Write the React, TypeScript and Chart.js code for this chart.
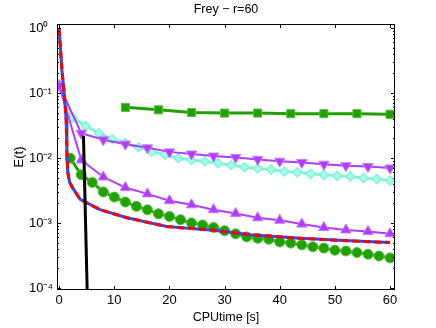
import React, { useEffect, useRef } from "react";
import { Chart, registerables } from "chart.js";

Chart.register(...registerables);

const TITLE = "Frey − r=60";
const X_LABEL = "CPUtime [s]";
const Y_LABEL = "E(t)";
const X_TICKS = [0, 10, 20, 30, 40, 50, 60];
const Y_TICKS = [1e-4, 1e-3, 1e-2, 1e-1, 1];
const Y_TICK_LABELS = ["10⁻⁴", "10⁻³", "10⁻²", "10⁻¹", "10⁰"];

const blackT = [4.4, 5.15];
const blackE = [0.022, 0.00005];

const redT = [0, 0.5, 0.9, 1.27, 1.4, 1.55, 1.9, 2.5, 3.8, 7.4, 12.3, 19.5, 28, 34.6, 43.7, 52.7, 60];
const redE = [0.95, 0.22, 0.1, 0.038, 0.012, 0.006, 0.0042, 0.0034, 0.0023, 0.0016, 0.0012, 0.00088, 0.00077, 0.00066, 0.00058, 0.00053, 0.0005];
const blueT = [0, 0.5, 0.9, 1.27, 1.4, 1.55, 1.9, 2.5, 3.8, 7.4, 12.3, 19.5, 28, 34.6, 43.7, 52.7, 60];
const blueE = [0.95, 0.22, 0.1, 0.038, 0.012, 0.006, 0.0042, 0.0034, 0.0023, 0.0016, 0.0012, 0.00088, 0.00077, 0.00066, 0.00058, 0.00053, 0.0005];

const circT = [2, 4, 6, 8, 10, 12, 14, 16, 18, 20, 22, 24, 26, 28, 30, 32, 34, 36, 38, 40, 42, 44, 46, 48, 50, 52, 54, 56, 58, 60];
const circE = [0.0099, 0.0055, 0.0042, 0.003, 0.0025, 0.0021, 0.0018, 0.00159, 0.00138, 0.00126, 0.00112, 0.001, 0.00093, 0.00085, 0.00076, 0.00068, 0.00061, 0.00058, 0.00056, 0.00051, 0.00049, 0.00046, 0.00043, 0.00041, 0.00038, 0.00037, 0.00035, 0.00033, 0.00031, 0.00029];

const sqT = [12, 18, 24, 30, 36, 42, 48, 54, 60];
const sqE = [0.06, 0.055, 0.05, 0.049, 0.049, 0.048, 0.048, 0.048, 0.047];

const diaT = [0, 2.4, 4.8, 7.2, 9.6, 12, 14.4, 16.8, 19.2, 21.6, 24, 26.4, 28.8, 31.2, 33.6, 36, 38.4, 40.8, 43.2, 45.6, 48, 50.4, 52.8, 55.2, 57.6, 60];
const diaE = [0.13, 0.042, 0.031, 0.024, 0.0194, 0.0169, 0.0146, 0.0125, 0.0112, 0.0099, 0.0093, 0.0088, 0.0083, 0.0078, 0.0072, 0.0069, 0.0066, 0.0062, 0.006, 0.0057, 0.0055, 0.0053, 0.0052, 0.0049, 0.0047, 0.0045];

const downT = [0, 4, 8, 12, 16, 20, 24, 28, 32, 36, 40, 44, 48, 52, 56, 60];
const downE = [0.13, 0.024, 0.019, 0.0163, 0.0143, 0.0124, 0.0115, 0.0107, 0.0102, 0.0095, 0.0089, 0.0085, 0.008, 0.0076, 0.0074, 0.007];

const upT = [0, 4, 8, 12, 16, 20, 24, 28, 32, 36, 40, 44, 48, 52, 56, 60];
const upE = [0.13, 0.0093, 0.0051, 0.0035, 0.0028, 0.0022, 0.0019, 0.0016, 0.0014, 0.0012, 0.0011, 0.00096, 0.00085, 0.00078, 0.00074, 0.00068];

const FONT = '"Liberation Sans", Arial, Helvetica, sans-serif';

const pts = (t: number[], e: number[]) => t.map((v, i) => ({ x: v, y: e[i] }));

const axesPlugin = {
  id: "matlabAxes",
  afterDraw(chart: any) {
    const { ctx, chartArea: a, scales } = chart;
    const xs = scales.x;
    const ys = scales.y;
    ctx.save();
    ctx.strokeStyle = "#000";
    ctx.lineWidth = 1;
    ctx.strokeRect(a.left + 0.5, a.top + 0.5, a.right - a.left - 1, a.bottom - a.top - 1);
    ctx.beginPath();
    for (const v of X_TICKS) {
      const px = Math.round(xs.getPixelForValue(v)) + 0.5;
      ctx.moveTo(px, a.bottom);
      ctx.lineTo(px, a.bottom - 4);
      ctx.moveTo(px, a.top);
      ctx.lineTo(px, a.top + 4);
    }
    for (let d = -5; d <= 0; d++) {
      for (let m = 1; m <= 9; m++) {
        const v = m * Math.pow(10, d);
        if (v < ys.min || v > ys.max) continue;
        const py = Math.round(ys.getPixelForValue(v)) + 0.5;
        const len = m === 1 ? 4 : 2;
        ctx.moveTo(a.left, py);
        ctx.lineTo(a.left + len, py);
        ctx.moveTo(a.right, py);
        ctx.lineTo(a.right - len, py);
      }
    }
    ctx.stroke();
    ctx.fillStyle = "#000";
    ctx.font = `12.5px ${FONT}`;
    ctx.textAlign = "center";
    ctx.textBaseline = "middle";
    ctx.fillText(TITLE, (a.left + a.right) / 2, 10);
    ctx.font = `13px ${FONT}`;
    ctx.translate(19, (a.top + a.bottom) / 2);
    ctx.rotate(-Math.PI / 2);
    ctx.fillText(Y_LABEL, 0, 0);
    ctx.restore();
  },
};

const GREEN = "#22a000";
const GREEN_EDGE = "#50c040";
const PURPLE = "#b03cff";
const PURPLE_EDGE = "#c878ff";
const CYAN = "#7ff5d8";
const CYAN_FILL = "#a8ffe8";

export default function App() {
  const ref = useRef<HTMLCanvasElement>(null);
  useEffect(() => {
    if (!ref.current) return;
    const chart = new Chart(ref.current, {
      type: "line",
      data: {
        datasets: [
          { label: "black", data: pts(blackT, blackE), borderColor: "#000", borderWidth: 3, pointRadius: 0 },
          { label: "red", data: pts(redT, redE), borderColor: "#ff0000", borderWidth: 3, borderDash: [7, 4], pointRadius: 0 },
          { label: "blue", data: pts(blueT, blueE), borderColor: "#1f4fff", borderWidth: 3, pointRadius: 0 },
          { label: "down", data: pts(downT, downE), borderColor: PURPLE, borderWidth: 2, pointStyle: "triangle", rotation: 180, pointRadius: 6, backgroundColor: PURPLE, pointBorderColor: PURPLE_EDGE, pointBorderWidth: 1 },
          { label: "up", data: pts(upT, upE), borderColor: PURPLE, borderWidth: 2, pointStyle: "triangle", pointRadius: 6, backgroundColor: PURPLE, pointBorderColor: PURPLE_EDGE, pointBorderWidth: 1 },
          { label: "circles", data: pts(circT, circE), borderColor: GREEN, borderWidth: 3, pointStyle: "circle", pointRadius: 5, backgroundColor: GREEN, pointBorderColor: GREEN_EDGE, pointBorderWidth: 1 },
          { label: "diamonds", data: pts(diaT, diaE), borderColor: CYAN, borderWidth: 3, pointStyle: "rectRot", pointRadius: 4.5, backgroundColor: CYAN_FILL, pointBorderColor: CYAN, pointBorderWidth: 1.5 },
          { label: "squares", data: pts(sqT, sqE), borderColor: GREEN, borderWidth: 3, pointStyle: "rect", pointRadius: 5.7, backgroundColor: GREEN, pointBorderColor: GREEN_EDGE, pointBorderWidth: 1 },
        ],
      },
      options: {
        animation: false,
        responsive: false,
        maintainAspectRatio: false,
        devicePixelRatio: 1,
        layout: { padding: { left: 29, right: 41, top: 24, bottom: 0 } },
        elements: { line: { tension: 0 } },
        plugins: { legend: { display: false }, title: { display: false }, tooltip: { enabled: false } },
        scales: {
          x: {
            type: "linear",
            min: -0.4,
            max: 60.9,
            afterBuildTicks: (s: any) => { s.ticks = X_TICKS.map((v) => ({ value: v })); },
            afterFit: (s: any) => { s.height = 38; },
            grid: { display: false, drawTicks: false },
            border: { display: false },
            ticks: { padding: 3, color: "#000", font: { family: FONT, size: 13 }, maxRotation: 0, autoSkip: false, callback: (v: any) => String(v) },
            title: { display: true, text: X_LABEL, color: "#000", font: { family: FONT, size: 12.5 }, padding: { top: 0, bottom: 3 } },
          },
          y: {
            type: "logarithmic",
            min: 9.3e-5,
            max: 1.15,
            afterBuildTicks: (s: any) => { s.ticks = Y_TICKS.map((v) => ({ value: v })); },
            afterFit: (s: any) => { s.width = 28; },
            grid: { display: false, drawTicks: false },
            border: { display: false },
            ticks: { padding: 0, crossAlign: "far", color: "#000", font: { family: FONT, size: 13 }, autoSkip: false, callback: (_v: any, i: number) => Y_TICK_LABELS[i] },
          },
        },
      },
      plugins: [axesPlugin],
    } as any);
    return () => chart.destroy();
  }, []);
  return (
    <div style={{ position: "fixed", left: 0, top: 0, width: 436, height: 328, background: "#fff" }}>
      <canvas ref={ref} width={436} height={328} style={{ width: 436, height: 328, display: "block" }} />
    </div>
  );
}
